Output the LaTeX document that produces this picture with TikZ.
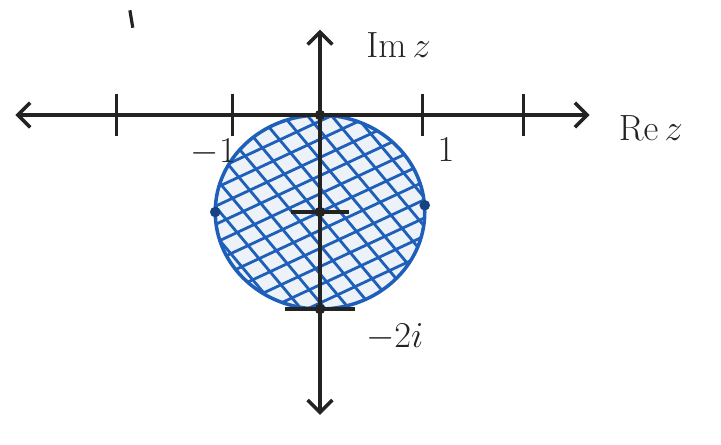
\documentclass[tikz,border=0pt]{standalone}
\usepackage{tikz}
\usetikzlibrary{positioning, arrows.meta, calc}
\usepackage{amsmath, amssymb}
\definecolor{penblue}{RGB}{30,95,185}
\definecolor{penblack}{RGB}{35,35,35}

\begin{document}
\begin{tikzpicture}[x=1.94cm, y=1.94cm,
    axis/.style={{Straight Barb[length=7pt, width=14pt]}-{Straight Barb[length=7pt, width=14pt]},
      line width=2pt, draw=penblack},
    tickmark/.style={line width=1.8pt, draw=penblack},
    hatch/.style={line width=1.6pt, draw=penblue},
    dot/.style={circle, fill=penblue!70!black, inner sep=0pt, minimum size=6pt},
    lbl/.style={font=\huge, text=penblack, inner sep=1pt}]
      \useasboundingbox (-3.299,-3.392) rectangle (4.134,1.186);

      % the disc
      \fill[penblue!8] (0,-1) ellipse [x radius=1.08, y radius=1];
      \begin{scope}
        \clip (0,-1) ellipse [x radius=1.08, y radius=1];
        \begin{scope}[shift={(0,-1)}, rotate=25]
          \foreach \s in {-1.36,-1.19,...,1.41} \draw[hatch] (-1.8,\s) -- (1.8,\s);
        \end{scope}
        \begin{scope}[shift={(0,-1)}, rotate=-50]
          \foreach \s in {-1.36,-1.17,...,1.41} \draw[hatch] (-1.8,\s) -- (1.8,\s);
        \end{scope}
      \end{scope}
      \draw[line width=2pt, penblue] (0,-1) ellipse [x radius=1.08, y radius=1];

      % axes
      \coordinate (W) at (-3.14,0);
      \coordinate (E) at (2.78,0);
      \coordinate (N) at (0,0.88);
      \coordinate (S) at (0,-3.09);
      \draw[axis] (W) -- (E);
      \draw[axis] (S) -- (N);
      \foreach \t in {-2.1,-0.9,1.06,2.1}
        \draw[tickmark] (\t,0.22) -- (\t,-0.22);
      \draw[tickmark] (-0.3,-1) -- (0.3,-1);
      \draw[tickmark] (-0.36,-2) -- (0.36,-2);
      \draw[tickmark] (-1.96,1.08) -- (-1.93,0.9);

      % points
      \node[dot, fill=penblack] (O) at (0,0) {};
      \node[dot] (L) at (-1.08,-1) {};
      \node[dot] (R) at (1.08,-0.93) {};
      \node[dot, fill=penblack] (C) at (0,-1) {};
      \node[dot, fill=penblack] (B) at (0,-2) {};

      % labels
      \node[lbl] (minusone) at (-1.1,-0.38) {$-1$};
      \node[lbl] (one) at (1.3,-0.36) {$1$};
      \node[lbl] (Re) at (3.41,-0.13) {$\mathrm{Re}\,z$};
      \node[lbl] (Im) at (0.81,0.72) {$\mathrm{Im}\,z$};
      \node[lbl] (twoi) at (0.77,-2.29) {$-2i$};
    \end{tikzpicture}
\end{document}
